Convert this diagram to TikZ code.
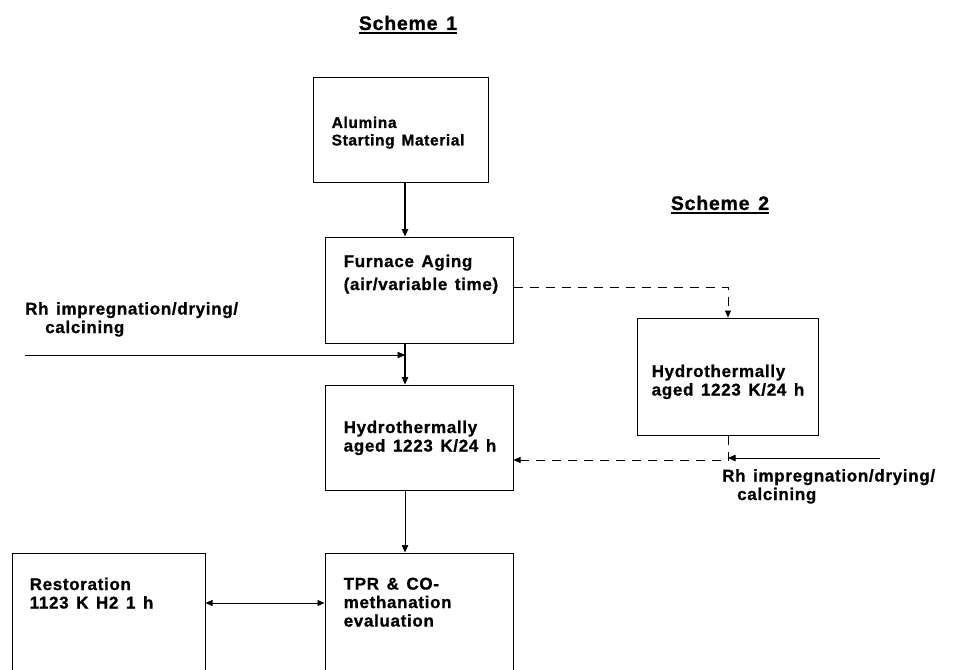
\documentclass[tikz,border=0pt]{standalone}
\usepackage{fontspec}
\setmainfont{Liberation Sans}[BoldFeatures={FakeBold=0.9,LetterSpace=4,WordSpace=1.4}]
\usetikzlibrary{arrows.meta,positioning}

\begin{document}
\begin{tikzpicture}[x=1pt, y=-1pt,
    mbox/.style={rectangle, draw, line width=1pt, inner sep=0pt},
    txt/.style={align=left, inner sep=0pt, font=\fontsize{17}{18.5}\selectfont\bfseries},
    title/.style={inner sep=0pt, font=\fontsize{19.5}{22}\selectfont\bfseries},
    uline/.style={line width=1.8pt},
    arrow/.style={-{Triangle[length=7.5pt,width=6.5pt]}, line width=1.2pt},
    dasharrow/.style={-{Triangle[length=7pt,width=6pt]}, line width=0.9pt, dash pattern=on 9pt off 7pt},
    node distance=0.35cm and 0.5cm
]
    \useasboundingbox (0,0) rectangle (965,669);

    % Titles
    \node[title] (s1) at (408,23) {Scheme 1};
    \draw[uline] ([yshift=-3pt]s1.south west) -- ([yshift=-3pt]s1.south east);
    \node[title] (s2) at (720,203) {Scheme 2};
    \draw[uline] ([yshift=-3pt]s2.south west) -- ([yshift=-3pt]s2.south east);

    % Scheme 1 column
    \node[mbox, minimum width=175pt, minimum height=105pt] (alumina) at (400.5,129.5) {};
    \node[txt, below right=40pt and 19pt of alumina.north west, font=\fontsize{15.5}{17.5}\selectfont\bfseries] (alumina-t) {Alumina\\Starting Material};

    \node[mbox, minimum width=188pt, minimum height=106pt] (furnace) at (419,290) {};
    \node[txt, below right=18pt and 19pt of furnace.north west, font=\fontsize{17}{23}\selectfont\bfseries] (furnace-t) {Furnace Aging\\(air/variable time)};

    \node[mbox, minimum width=188pt, minimum height=105pt] (hyd) at (419,437.5) {};
    \node[txt, below right=36pt and 19pt of hyd.north west] (hyd-t) {Hydrothermally\\aged 1223 K/24 h};

    \node[mbox, minimum width=188pt, minimum height=150pt] (tpr) at (419,628) {};
    \node[txt, below right=25pt and 19pt of tpr.north west] (tpr-t) {TPR \& CO-\\methanation\\evaluation};

    \node[mbox, minimum width=193pt, minimum height=150pt] (resto) at (108.5,628) {};
    \node[txt, below right=25pt and 18pt of resto.north west] (resto-t) {Restoration\\1123 K H2 1 h};

    % Scheme 2 box
    \node[mbox, minimum width=181pt, minimum height=117pt] (hyd2) at (727.5,376.5) {};
    \node[txt, below right=47pt and 15pt of hyd2.north west] (hyd2-t) {Hydrothermally\\aged 1223 K/24 h};

    % Rh impregnation labels
    \node[txt, anchor=north west] (rh1) at (25,302) {Rh impregnation/drying/\\\hspace*{20pt}calcining};
    \node[txt, anchor=north west] (rh2) at (722,469) {Rh impregnation/drying/\\\hspace*{15pt}calcining};

    \coordinate (j1) at (405,355);
    \coordinate (rh1-start) at (25,355);
    \coordinate (j2) at (728,460);
    \coordinate (rh2-start) at (880,458);
    \coordinate (d1) at (728,287);

    % Arrows
    \draw[arrow] (alumina.south -| j1) -- (furnace.north -| j1);
    \draw[arrow] (furnace.south -| j1) -- (hyd.north -| j1);
    \draw[arrow, line width=0.8pt] (rh1-start) -- (j1);
    \draw[arrow, line width=0.8pt] (hyd.south -| j1) -- (tpr.north -| j1);
    \draw[{Triangle[length=7pt,width=6pt]}-{Triangle[length=7pt,width=6pt]}, line width=0.8pt] (resto.east |- 0,603) -- (tpr.west |- 0,603);

    % Scheme 2 connectors
    \draw[dasharrow] (furnace.east |- 0,287) -- (d1) -- (hyd2.north -| d1);
    \draw[dasharrow] (hyd2.south -| j2) -- (j2) -- (hyd.east |- j2);
    \draw[arrow, line width=0.8pt] (rh2-start) -- (j2 |- rh2-start);
\end{tikzpicture}
\end{document}
